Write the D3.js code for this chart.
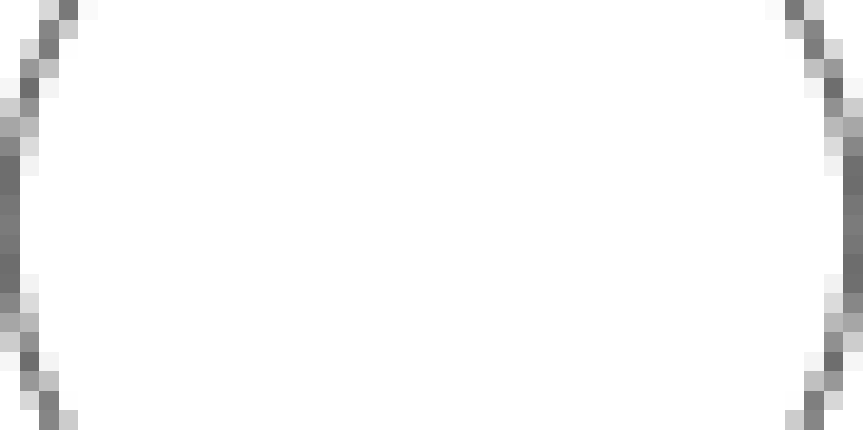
<!DOCTYPE html>
<html>
<head>
<meta charset="utf-8">
<script src="https://cdn.jsdelivr.net/npm/d3@7"></script>
<style>
  html, body { margin: 0; padding: 0; background: #fff; overflow: hidden; }
  #pie-chart {
    display: block;
    width: 863px;
    height: 430px;
    image-rendering: pixelated;
    image-rendering: crisp-edges;
  }
</style>
</head>
<body>
<canvas id="pie-chart"></canvas>
<script>
// the chart is a single-slice pie, rendered small and blown up
var categories = ["Total"],
    values = [100];

const sliceColor = "#ffffff",
    outlineColor = "#666666";

function drawPieChart() {
    var canvas = document.getElementById("pie-chart"),
        width = 44,
        height = 22,
        ss = 8; // supersample, then box-filter down
    canvas.width = width;
    canvas.height = height;

    var big = document.createElement("canvas");
    big.width = width * ss;
    big.height = height * ss;
    var bctx = big.getContext("2d");
    bctx.fillStyle = "#fff";
    bctx.fillRect(0, 0, big.width, big.height);

    var data = categories.map(function(c, i) {
        return {category: c, value: values[i]};
    });

    var pie = d3.pie()
        .sort(null)
        .value(function(d) { return d.value; });

    var rx = 21.65,
        ry = 21.8,
        arc = d3.arc()
            .innerRadius(0)
            .outerRadius(rx)
            .context(bctx);

    bctx.save();
    bctx.scale(ss, ss);
    bctx.translate(width / 2, 11.5);
    bctx.scale(1, ry / rx);
    pie(data).forEach(function(slice) {
        bctx.beginPath();
        arc(slice);
        bctx.fillStyle = sliceColor;
        bctx.fill();
        bctx.lineWidth = 1.0;
        bctx.strokeStyle = outlineColor;
        bctx.stroke();
    });
    bctx.restore();

    // average each ss x ss block into one pixel
    var src = bctx.getImageData(0, 0, big.width, big.height).data,
        ctx = canvas.getContext("2d"),
        out = ctx.createImageData(width, height);
    for (var y = 0; y < height; y++) {
        for (var x = 0; x < width; x++) {
            var r = 0, g = 0, b = 0;
            for (var j = 0; j < ss; j++) {
                for (var i = 0; i < ss; i++) {
                    var k = ((y * ss + j) * big.width + (x * ss + i)) * 4;
                    r += src[k]; g += src[k + 1]; b += src[k + 2];
                }
            }
            var n = ss * ss, o = (y * width + x) * 4;
            out.data[o] = r / n;
            out.data[o + 1] = g / n;
            out.data[o + 2] = b / n;
            out.data[o + 3] = 255;
        }
    }
    ctx.putImageData(out, 0, 0);
}

drawPieChart();
</script>
</body>
</html>
